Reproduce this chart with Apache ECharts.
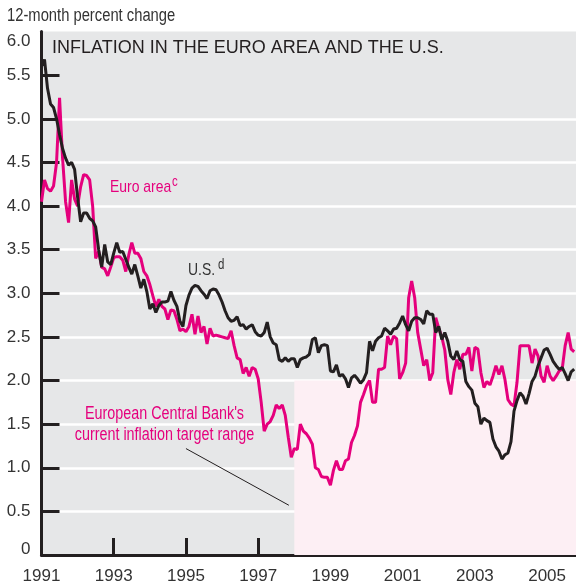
<!DOCTYPE html>
<html>
<head>
<meta charset="utf-8">
<script src="https://cdn.jsdelivr.net/npm/echarts@6.0.0/dist/echarts.min.js"></script>
<style>
    html, body { margin: 0; padding: 0; background: #ffffff; }
    #main { width: 576px; height: 585px; }
</style>
</head>
<body>
<div id="main"></div>
<script>
var startYear = 1991;
var tickYears = [1991, 1993, 1995, 1997, 1999, 2001, 2003, 2005];
var yTicks = [0, 0.5, 1.0, 1.5, 2.0, 2.5, 3.0, 3.5, 4.0, 4.5, 5.0, 5.5, 6.0];

// monthly 12-month percent change, Jan 1991 - Oct 2005
var usValues = [
    5.60, 5.68, 5.35, 5.17, 5.13, 5.00, 4.82, 4.66, 4.55, 4.47,
    4.50, 4.42, 4.10, 3.82, 3.92, 3.92, 3.86, 3.83, 3.76, 3.50,
    3.30, 3.56, 3.36, 3.33, 3.46, 3.58, 3.47, 3.48, 3.39, 3.30,
    3.22, 3.33, 3.20, 3.06, 3.16, 3.02, 2.82, 2.88, 2.78, 2.86,
    2.90, 2.90, 2.91, 3.02, 2.92, 2.85, 2.68, 2.62, 2.86, 2.98,
    3.06, 3.09, 3.08, 3.03, 2.99, 2.94, 3.03, 3.05, 3.04, 2.98,
    2.90, 2.80, 2.72, 2.68, 2.69, 2.73, 2.63, 2.64, 2.59, 2.62,
    2.64, 2.56, 2.52, 2.51, 2.55, 2.67, 2.50, 2.43, 2.41, 2.24,
    2.22, 2.26, 2.22, 2.25, 2.25, 2.15, 2.24, 2.26, 2.27, 2.30,
    2.47, 2.49, 2.32, 2.40, 2.41, 2.40, 2.11, 2.10, 2.18, 2.05,
    2.07, 2.02, 1.92, 2.03, 2.06, 2.02, 1.97, 2.01, 2.09, 2.45,
    2.34, 2.45, 2.49, 2.51, 2.60, 2.57, 2.53, 2.59, 2.60, 2.66,
    2.74, 2.64, 2.57, 2.68, 2.72, 2.72, 2.70, 2.65, 2.80, 2.76,
    2.76, 2.55, 2.62, 2.47, 2.55, 2.45, 2.28, 2.24, 2.34, 2.24,
    2.22, 1.99, 1.93, 1.89, 1.74, 1.70, 1.50, 1.57, 1.54, 1.52,
    1.33, 1.24, 1.19, 1.10, 1.15, 1.17, 1.30, 1.65, 1.77, 1.86,
    1.82, 1.73, 1.85, 1.99, 2.05, 2.17, 2.26, 2.35, 2.37, 2.30,
    2.22, 2.17, 2.13, 2.15, 2.08, 2.00, 2.10, 2.13
];
var euroValues = [
    4.05, 4.30, 4.20, 4.17, 4.23, 4.50, 5.24, 4.55, 4.05, 3.81,
    4.30, 4.08, 4.00, 4.22, 4.36, 4.35, 4.30, 4.00, 3.40, 3.48,
    3.30, 3.28, 3.20, 3.30, 3.41, 3.42, 3.42, 3.38, 3.25, 3.44,
    3.58, 3.46, 3.46, 3.40, 3.25, 3.20, 3.10, 2.97, 2.85, 2.93,
    2.85, 2.82, 2.70, 2.81, 2.80, 2.70, 2.57, 2.59, 2.56, 2.62,
    2.76, 2.53, 2.74, 2.55, 2.62, 2.42, 2.60, 2.51, 2.52, 2.51,
    2.50, 2.49, 2.48, 2.57, 2.40, 2.26, 2.24, 2.08, 2.15, 2.05,
    2.15, 2.13, 2.02, 1.75, 1.42, 1.50, 1.53, 1.60, 1.72, 1.68,
    1.72, 1.60, 1.35, 1.12, 1.22, 1.21, 1.50, 1.42, 1.39, 1.34,
    1.27, 1.00, 0.98, 0.90, 0.89, 0.89, 0.80, 0.97, 1.08, 0.98,
    0.98, 1.08, 1.10, 1.29, 1.37, 1.48, 1.75, 1.84, 1.94, 2.00,
    1.75, 1.75, 2.13, 2.13, 2.15, 2.51, 2.41, 2.51, 2.48, 2.02,
    2.09, 2.20, 2.95, 3.14, 2.95, 2.55, 2.36, 2.17, 2.24, 2.00,
    2.09, 2.72, 2.60, 2.50, 2.35, 2.01, 1.84, 2.09, 2.24, 2.13,
    2.30, 2.30, 2.38, 2.11, 2.38, 2.36, 2.09, 1.92, 1.99, 1.95,
    2.05, 2.17, 2.07, 2.17, 2.01, 1.78, 1.73, 1.71, 1.98, 2.40,
    2.40, 2.40, 2.40, 2.20, 2.36, 2.28, 2.05, 1.98, 2.17, 2.05,
    2.00, 2.05, 2.11, 2.13, 2.40, 2.55, 2.36, 2.33
];

// ECB target range: below 2 percent, shown from 1998
var targetStart = 1998;
var targetTop = 2.0;

var xMax = 177.6;
var magenta = '#e5007d';
var ink = '#231f20';
var grey = '#333333';
var sans = '"Liberation Sans", Arial, sans-serif';
var squeeze = 0.82;   // poor man's condensed face

var toPairs = function (values) {
    return values.map(function (v, i) { return [i, v]; });
};
var yearTicks = tickYears.map(function (y) { return (y - startYear) * 12; });

var note = function (txt, x, y, size, color, align) {
    return {
        type: 'text', x: x, y: y, scaleX: squeeze,
        style: { text: txt, fontFamily: sans, fontSize: size, fill: color, align: align || 'left', verticalAlign: 'middle' }
    };
};

var myChart = echarts.init(document.getElementById('main'));
myChart.setOption({
    animation: false,
    backgroundColor: '#ffffff',
    grid: {
        left: 41.5,
        right: 0,
        top: 31.6,
        bottom: 29.5,
        show: true,
        backgroundColor: '#e6e7e8',
        borderWidth: 0
    },
    xAxis: {
        type: 'value',
        min: 0,
        max: xMax,
        interval: 24,
        axisLine: { show: true, onZero: false, lineStyle: { color: ink, width: 3 } },
        axisTick: { show: true, inside: true, length: 17, lineStyle: { color: ink, width: 3 }, customValues: yearTicks },
        axisLabel: {
            margin: 13,
            color: grey,
            fontFamily: sans,
            fontSize: 17,
            customValues: yearTicks,
            formatter: function (v) { return String(startYear + Math.round(v / 12)); }
        },
        splitLine: { show: false }
    },
    yAxis: {
        type: 'value',
        min: 0,
        max: 6,
        interval: 0.5,
        axisLine: { show: true, lineStyle: { color: ink, width: 3 } },
        axisTick: { show: true, inside: true, length: 18, lineStyle: { color: ink, width: 3 },
            customValues: yTicks.slice(0, yTicks.length - 1) },
        axisLabel: {
            margin: 11,
            color: grey,
            fontFamily: sans,
            fontSize: 17,
            customValues: yTicks,
            formatter: function (v) {
                if (v === 6) return '{top|6.0}';
                if (v === 0) return '{bot|0}';
                return v.toFixed(1);
            },
            rich: {
                top: { padding: [20, 0, 0, 0], color: grey, fontFamily: sans, fontSize: 17 },
                bot: { padding: [0, 0, 12, 0], color: grey, fontFamily: sans, fontSize: 17 }
            }
        },
        splitLine: { show: true, showMinLine: false, showMaxLine: false, lineStyle: { color: '#ffffff', width: 2.5 } }
    },
    series: [
        {
            name: 'Euro area',
            type: 'line',
            data: toPairs(euroValues),
            symbol: 'none',
            lineStyle: { color: magenta, width: 3 },
            markArea: {
                silent: true,
                itemStyle: { color: '#fdeff4' },
                data: [[
                    { coord: [(targetStart - startYear) * 12, 0] },
                    { coord: [xMax, targetTop] }
                ]]
            },
            markLine: {
                silent: true,
                symbol: 'none',
                label: { show: false },
                lineStyle: { color: ink, width: 1, type: 'solid' },
                data: [[
                    { coord: [48, 1.22] },
                    { coord: [82.2, 0.57] }
                ]]
            }
        },
        {
            name: 'U.S.',
            type: 'line',
            data: toPairs(usValues),
            symbol: 'none',
            lineStyle: { color: ink, width: 3 }
        }
    ],
    graphic: [
        note('12-month percent change', 7, 16, 18, grey),
        { type: 'text', x: 52, y: 48, style: { text: 'INFLATION IN THE EURO AREA AND THE U.S.', fontFamily: sans, fontSize: 18, fill: ink, verticalAlign: 'middle' } },
        note('Euro area', 110, 187, 17, magenta),
        note('c', 172, 182, 14, magenta),
        note('U.S.', 188, 270, 17, grey),
        note('d', 218, 265, 14, grey),
        note("European Central Bank's", 164.5, 414, 17.5, magenta, 'center'),
        note('current inflation target range', 164.5, 435, 17.5, magenta, 'center')
    ]
});
</script>
</body>
</html>
